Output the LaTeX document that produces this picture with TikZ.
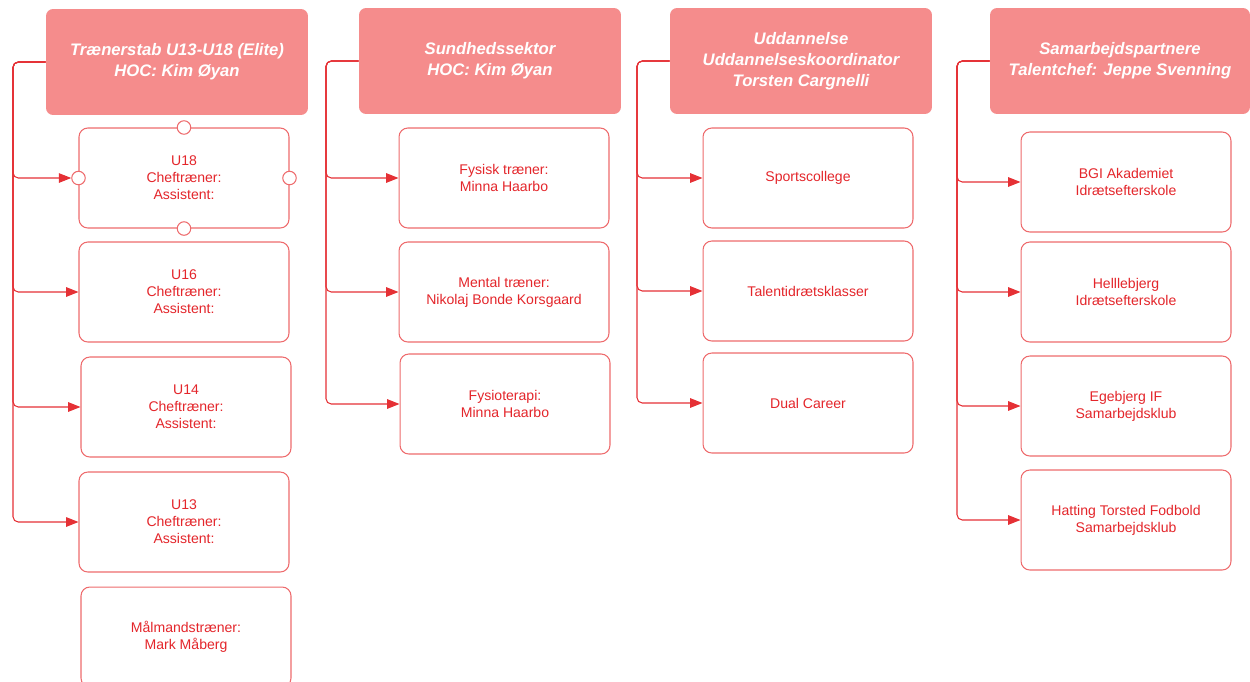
\documentclass[tikz,border=0pt]{standalone}
\usepackage{fontspec}
\setmainfont{Liberation Sans}
\usepackage{xcolor}
\usepackage{tikz}
\usetikzlibrary{positioning, arrows.meta}
\definecolor{oInk}{HTML}{E4262B}
\definecolor{oLine}{HTML}{E53035}
\definecolor{oEdge}{HTML}{EE6B6D}
\definecolor{oHead}{HTML}{F58C8C}

\begin{document}
\begin{tikzpicture}[x=0.02cm, y=-0.02cm, >={Triangle[length=7pt,width=5.4pt]},
        hbox/.style={rounded corners=4pt, minimum width=5.24cm, minimum height=2.12cm,
          align=center, font=\fontsize{9.5}{11.9}\selectfont\bfseries\itshape, text=white, fill=oHead},
        obox/.style={rounded corners=5pt, minimum width=4.2cm, minimum height=2cm,
          align=center, font=\fontsize{8}{9.6}\selectfont, text=oInk, draw=oEdge, line width=0.6pt, fill=white},
        port/.style={circle, draw=oEdge, fill=white, line width=0.6pt, minimum size=0.27cm, inner sep=0pt},
        link/.style={->, oLine, line width=0.6pt, rounded corners=3pt}]
      \useasboundingbox (0,0) rectangle (1250,681);
      \node[hbox] (h1) at (177,62) {Trænerstab U13-U18 (Elite)\\HOC: Kim Øyan};
      \node[hbox] (h2) at (490,61) {Sundhedssektor\\HOC: Kim Øyan};
      \node[hbox] (h3) at (801,61) {Uddannelse\\Uddannelseskoordinator\\Torsten Cargnelli};
      \node[hbox, minimum width=5.2cm] (h4) at (1120,61) {Samarbejdspartnere\\Talentchef: Jeppe Svenning};
      \node[obox] (u18) at (184,178) {U18\\Cheftræner:\\Assistent:};
      \node[obox] (u16) at (184,292) {U16\\Cheftræner:\\Assistent:};
      \node[obox] (u14) at (186,407) {U14\\Cheftræner:\\Assistent:};
      \node[obox] (u13) at (184,522) {U13\\Cheftræner:\\Assistent:};
      \node[obox] (maal) at (186,637) {Målmandstræner:\\Mark Måberg};
      \node[port] (u18n) at (u18.north) {};
      \node[port] (u18s) at (u18.south) {};
      \node[port] (u18w) at (u18.west) {};
      \node[port] (u18e) at (u18.east) {};
      \node[obox] (fys) at (504,178) {Fysisk træner:\\Minna Haarbo};
      \node[obox] (men) at (504,292) {Mental træner:\\Nikolaj Bonde Korsgaard};
      \node[obox] (fysio) at (505,404) {Fysioterapi:\\Minna Haarbo};
      \node[obox] (sport) at (808,178) {Sportscollege};
      \node[obox, text depth=-8pt] (talent) at (808,291) {Talentidrætsklasser};
      \node[obox] (dual) at (808,403) {Dual Career};
      \node[obox] (bgi) at (1126,182) {BGI Akademiet\\Idrætsefterskole};
      \node[obox] (helle) at (1126,292) {Helllebjerg\\Idrætsefterskole};
      \node[obox] (ege) at (1126,406) {Egebjerg IF\\Samarbejdsklub};
      \node[obox] (hat) at (1126,520) {Hatting Torsted Fodbold\\Samarbejdsklub};
      \coordinate (t1) at (13,62);
      \coordinate (t2) at (326,61);
      \coordinate (t3) at (637,61);
      \coordinate (t4) at (957,61);
      \draw[link] (h1.west) -- (t1) |- (u18w.west);
      \draw[link] (h1.west) -- (t1) |- (u16.west);
      \draw[link] (h1.west) -- (t1) |- (u14.west);
      \draw[link] (h1.west) -- (t1) |- (u13.west);
      \draw[link] (h2.west) -- (t2) |- (fys.west);
      \draw[link] (h2.west) -- (t2) |- (men.west);
      \draw[link] (h2.west) -- (t2) |- (fysio.west);
      \draw[link] (h3.west) -- (t3) |- (sport.west);
      \draw[link] (h3.west) -- (t3) |- (talent.west);
      \draw[link] (h3.west) -- (t3) |- (dual.west);
      \draw[link] (h4.west) -- (t4) |- (bgi.west);
      \draw[link] (h4.west) -- (t4) |- (helle.west);
      \draw[link] (h4.west) -- (t4) |- (ege.west);
      \draw[link] (h4.west) -- (t4) |- (hat.west);
    \end{tikzpicture}
\end{document}
